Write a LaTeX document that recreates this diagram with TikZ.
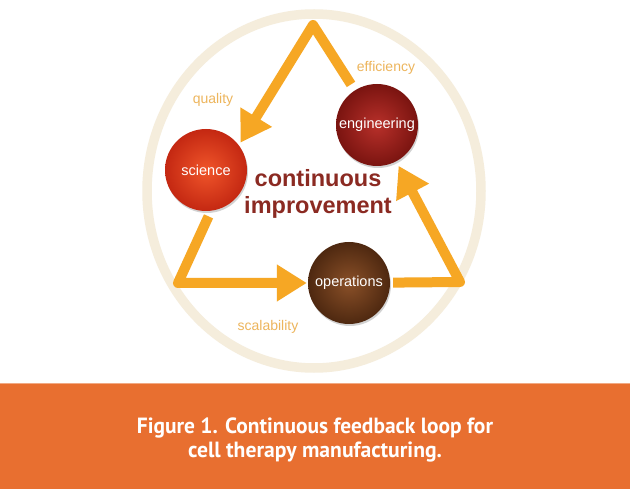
\documentclass[tikz,border=0pt]{standalone}
\usepackage{fontspec}
\setmainfont{Liberation Sans}
\newfontfamily\capfont{PT Sans}
\usetikzlibrary{arrows.meta,shadows}
\definecolor{ringc}{HTML}{F5EDDC}
\definecolor{arr}{HTML}{F6A724}
\definecolor{lab}{HTML}{EDB55C}
\definecolor{band}{HTML}{E86F30}
\definecolor{titlec}{HTML}{8B2A22}
\definecolor{sciin}{HTML}{F0552A}
\definecolor{sciout}{HTML}{C42812}
\definecolor{engin}{HTML}{B8302A}
\definecolor{engout}{HTML}{7A1410}
\definecolor{opsin}{HTML}{8A5028}
\definecolor{opsout}{HTML}{4E2810}
\tikzset{
  ball/.style={circle, minimum size=82pt, inner sep=0pt, text=white,
    font=\fontsize{14.5}{16}\selectfont,
    drop shadow={opacity=0.35, shadow xshift=1pt, shadow yshift=-2pt}},
  flow/.style={draw=arr, line width=10pt, line join=round,
    -{Triangle[length=30pt,width=35pt]}},
  lbl/.style={text=lab, font=\fontsize{14}{16}\selectfont},
  capline/.style={text=white, font=\capfont\bfseries\fontsize{22}{26}\selectfont, inner sep=0pt, anchor=base}
}
\begin{document}
\begin{tikzpicture}[x=1pt,y=-1pt]
\useasboundingbox (0,0) rectangle (630,489);
\fill[white] (0,0) rectangle (630,489);
\draw[ringc, line width=9.5pt] (314,191) ellipse [x radius=167pt, y radius=177pt];
\fill[band] (0,383) rectangle (630,489);
\draw[band!60!white, line width=1pt] (0,383.5) -- (630,383.5);

\node[ball, inner color=sciin, outer color=sciout] (sci) at (206,170) {science};
\node[ball, inner color=engin, outer color=engout] (eng) at (377,125) {engineering};
\node[ball, inner color=opsin, outer color=opsout] (ops) at (349,283) {operations};

\coordinate (topC) at (313,25);
\coordinate (blC) at (178,283);
\coordinate (brC) at (460,282);

\draw[flow, shorten <=7pt, shorten >=3pt] (eng) -- (topC) -- (sci.37);
\draw[flow, shorten <=6pt, shorten >=1pt] (sci.-83) -- (blC) -- (ops);
\draw[flow, shorten <=3pt, shorten >=5pt] (ops) -- (brC) -- (eng);

\node[lbl] (q) at (213,100) {quality};
\node[lbl] (e) at (386,68) {efficiency};
\node[lbl] (s) at (268,327) {scalability};

\node[text=titlec, font=\bfseries\fontsize{23.5}{27}\selectfont, align=center] (ci) at (318,194) {continuous\\improvement};

\node[capline] (cap1) at (315,433) {\resizebox{356pt}{\height}{Figure 1. Continuous feedback loop for}};
\node[capline] (cap2) at (315,458) {\resizebox{254pt}{\height}{cell therapy manufacturing.}};
\end{tikzpicture}
\end{document}
